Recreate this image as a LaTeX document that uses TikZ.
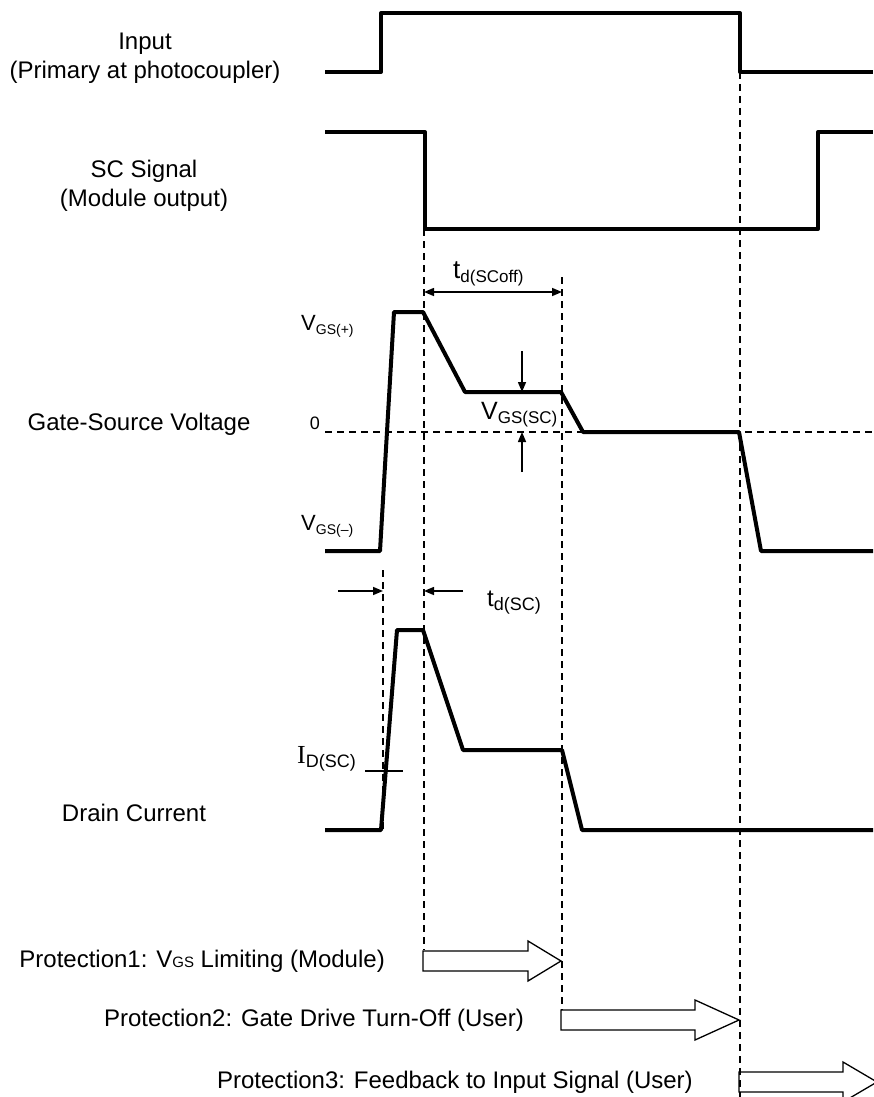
\documentclass[tikz,border=0pt]{standalone}
\usepackage{fontspec}
\setmainfont{Liberation Sans}
\newfontfamily\serifrm{Liberation Serif}
\usetikzlibrary{positioning,arrows.meta}

% big letter with a lowered small subscript
\newcommand{\sublbl}[4]{{\fontsize{#2}{#2}\selectfont #1}\raisebox{-4pt}{\fontsize{#4}{#4}\selectfont #3}}

\tikzset{
  wave/.style={line width=4pt,line join=round},
  guide/.style={line width=1.3pt,dash pattern=on 7pt off 5pt},
  dimarr/.style={line width=1.5pt},
  blockarr/.style={line width=1.3pt,line join=miter},
  lbl/.style={inner sep=0pt,align=center,font=\fontsize{24}{29}\selectfont},
}

\begin{document}
\begin{tikzpicture}[x=1pt,y=-1pt,>={Triangle[length=10pt,width=8pt]}]
\useasboundingbox (0,0) rectangle (873,1097);

% row labels
\node[lbl] (inlbl) at (145,58) {Input\\(Primary at photocoupler)};
\node[lbl] (sclbl) at (144,186) {SC Signal\\(Module output)};
\node[lbl] (gslbl) at (139,424) {Gate-Source Voltage};
\node[lbl] (idlbl) at (134,813) {Drain Current};

% waveforms
\draw[wave] (325,72) -- (381,72) -- (381,13) -- (740,13) -- (740,72) -- (873,72);
\draw[wave] (325,132) -- (425,132) -- (425,229) -- (818,229) -- (818,132) -- (873,132);
\draw[wave] (325,551) -- (380,551) -- (394,312) -- (423,312) -- (465,392) -- (561,392)
  -- (583,432) -- (739,432) -- (761,551) -- (873,551);
\draw[wave] (325,830) -- (381,830) -- (397,630) -- (423,630) -- (463,750) -- (562,750)
  -- (582,830) -- (873,830);

% time marks
\coordinate (ton) at (383,570);
\coordinate (tsc) at (424,229);
\coordinate (toff) at (562,277);
\coordinate (tin) at (740,72);
\coordinate (zl) at (325,432);
\coordinate (zr) at (873,432);
\draw[guide] (zl) -- (zr);
\draw[guide] (ton) -- (383,830);
\draw[guide] (tsc) -- (424,950);
\draw[guide] (toff) -- (562,1010);
\draw[guide] (tin) -- (740,1097);

% gate-source labels
\node[lbl,anchor=base west] (vgsp) at (301,330) {\sublbl{V}{22}{GS(+)}{14}};
\node[lbl,anchor=base west] (vgsn) at (301,530) {\sublbl{V}{22}{GS(--)}{14}};
\node[lbl,font=\fontsize{18}{18}\selectfont] (zero) at (315,423) {0};

\coordinate (tdl) at (424,292);
\coordinate (tdr) at (562,292);
\draw[dimarr,<->] (tdl) -- (tdr);
\node[lbl,anchor=base west] (tdoff) at (453,278) {\sublbl{t}{26}{d(SCoff)}{17}};

\coordinate (va) at (522,351);
\coordinate (vb) at (522,392);
\coordinate (vc) at (522,472);
\coordinate (vd) at (522,432);
\draw[dimarr,->] (va) -- (vb);
\draw[dimarr,->] (vc) -- (vd);
\node[lbl,anchor=base west] (vgssc) at (481,419) {\sublbl{V}{25}{GS(SC)}{17}};

% drain current labels
\coordinate (ia) at (365,771);
\coordinate (ib) at (403,771);
\draw[dimarr] (ia) -- (ib);
\node[lbl,anchor=base west] (idsc) at (297,763) {\sublbl{\serifrm I}{26}{D(SC)}{18}};

\coordinate (sa) at (338,591);
\coordinate (sb) at (383,591);
\coordinate (sc) at (463,591);
\coordinate (sd) at (424,591);
\draw[dimarr,->] (sa) -- (sb);
\draw[dimarr,->] (sc) -- (sd);
\node[lbl,anchor=base west] (tdsc) at (487,606) {\sublbl{t}{24}{d(SC)}{18}};

% protections
\node[lbl,anchor=east] (prot1) at (385,961) {Protection1: V{\fontsize{15}{15}\selectfont GS} Limiting (Module)};
\node[lbl,anchor=east] (prot2) at (524,1020) {Protection2: Gate Drive Turn-Off (User)};
\node[lbl,anchor=east] (prot3) at (693,1082) {Protection3: Feedback to Input Signal (User)};

\foreach \xa/\xb/\xc/\yc in {423/528/561/961, 561/695/739/1020, 739/843/877/1082}
  \draw[blockarr] (\xa,\yc-10) -- (\xb,\yc-10) -- (\xb,\yc-20) -- (\xc,\yc)
    -- (\xb,\yc+20) -- (\xb,\yc+10) -- (\xa,\yc+10) -- cycle;
\end{tikzpicture}
\end{document}
